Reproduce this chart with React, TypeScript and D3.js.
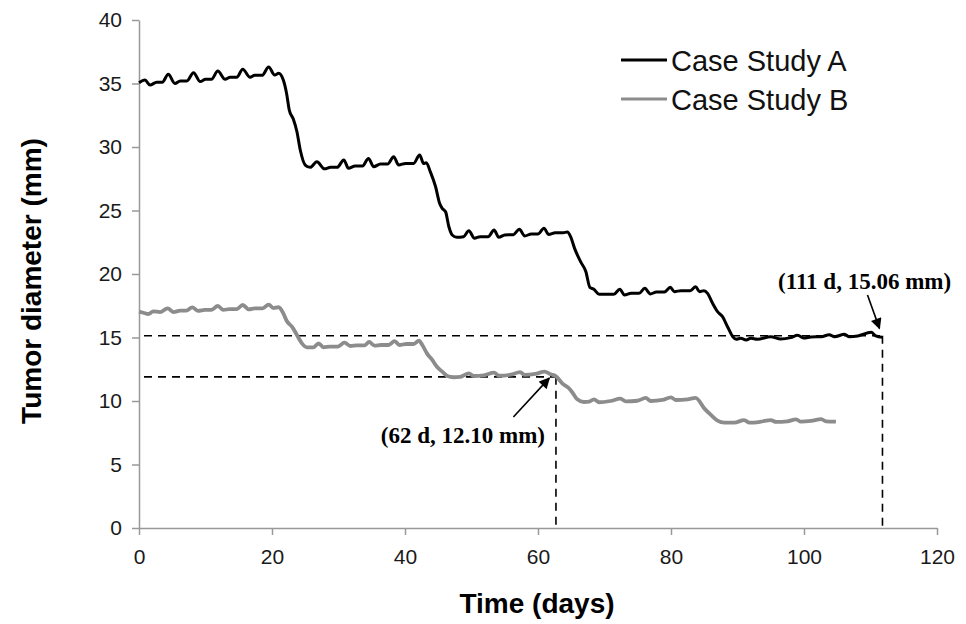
import React, { useRef, useEffect } from 'react';
import { select, scaleLinear, axisBottom, axisLeft, line, curveMonotoneX } from 'd3';

// Case Study A (black)
const daysA = [0, 0.9, 1.66, 2.66, 3.5, 4.4, 5.4, 6.2, 7.2, 8.2, 9.2, 10.0, 10.9, 11.85, 12.95, 13.7, 14.7, 15.6, 16.7, 17.4, 18.5, 19.5, 20.4, 21.0, 21.7, 22.2, 22.6, 23.2, 23.75, 24.25, 25.0, 25.75, 26.75, 27.9, 28.8, 29.8, 30.8, 31.5, 32.5, 33.6, 34.5, 35.3, 36.3, 37.4, 38.3, 39.05, 40.1, 41.3, 42.2, 42.8, 43.2, 43.8, 44.6, 45.2, 45.6, 46.1, 46.6, 47.1, 47.8, 48.8, 49.6, 50.45, 51.3, 52.5, 53.4, 54.1, 55.0, 56.3, 57.2, 58.0, 59.0, 60.0, 60.9, 61.6, 62.6, 63.8, 64.4, 64.9, 65.5, 66.4, 67.2, 67.8, 68.4, 69.2, 70.4, 71.4, 72.3, 73.0, 74.0, 75.2, 76.05, 76.9, 77.8, 79.0, 79.9, 80.5, 81.5, 82.9, 83.7, 84.3, 84.95, 85.5, 86.25, 87.0, 87.75, 88.5, 89.3, 89.8, 90.5, 91.3, 92.0, 93.0, 95.0, 96.5, 98.0, 99.05, 100, 101.05, 102.6, 103.8, 104.6, 106.1, 106.8, 108.1, 110.1, 110.8, 111.8];
const diamA = [35.06, 35.27, 34.88, 35.1, 35.1, 35.72, 35.0, 35.2, 35.2, 35.85, 35.15, 35.33, 35.33, 35.98, 35.33, 35.49, 35.49, 36.12, 35.49, 35.64, 35.64, 36.3, 35.67, 35.8, 35.27, 34.2, 32.9, 32.2, 31.2, 29.76, 28.58, 28.4, 28.84, 28.28, 28.4, 28.4, 28.98, 28.32, 28.5, 28.5, 29.1, 28.45, 28.66, 28.66, 29.24, 28.58, 28.71, 28.71, 29.37, 28.7, 28.76, 28.06, 26.87, 25.57, 25.17, 24.9, 23.72, 23.07, 22.89, 22.94, 23.41, 22.81, 22.94, 22.94, 23.46, 22.89, 23.08, 23.1, 23.52, 22.99, 23.15, 23.15, 23.6, 23.12, 23.25, 23.25, 23.3, 22.94, 22.02, 20.97, 20.18, 18.95, 18.8, 18.4, 18.4, 18.4, 18.8, 18.35, 18.48, 18.48, 18.87, 18.43, 18.58, 18.58, 18.95, 18.61, 18.69, 18.69, 19.0, 18.61, 18.69, 18.48, 17.69, 17.03, 16.64, 15.85, 15.06, 14.86, 14.94, 14.8, 14.94, 14.86, 15.06, 14.88, 14.99, 15.17, 14.96, 15.04, 15.06, 15.22, 15.06, 15.25, 15.06, 15.12, 15.41, 15.12, 15.01];

// Case Study B (gray)
const daysB = [0, 0.65, 1.4, 2.15, 3.16, 4.3, 5.17, 6.2, 7.1, 8.0, 8.9, 9.9, 10.9, 11.85, 12.7, 13.6, 14.7, 15.6, 16.5, 17.4, 18.6, 19.5, 20.2, 21.0, 21.7, 22.2, 23.0, 23.75, 24.5, 25.25, 26.25, 27.0, 27.75, 28.7, 29.9, 30.9, 31.8, 32.8, 33.9, 34.6, 35.4, 36.4, 37.5, 38.45, 39.15, 40.2, 41.3, 42.1, 42.6, 43.3, 44.1, 44.8, 45.6, 46.35, 47.3, 48.3, 49.6, 50.35, 51.85, 53.4, 54.1, 55.9, 57.3, 58.0, 59.6, 61.0, 61.9, 62.65, 63.65, 64.65, 65.2, 65.9, 66.9, 67.7, 68.4, 69.2, 70.9, 72.4, 73.2, 74.95, 76.2, 76.96, 78.7, 80.0, 80.7, 82.5, 83.7, 85.0, 86.0, 87.0, 88.0, 89.5, 91.0, 91.8, 93.5, 95.0, 95.8, 97.5, 98.8, 99.55, 101.05, 102.6, 103.3, 104.8];
const diamB = [17.03, 16.95, 16.85, 17.06, 17.0, 17.3, 17.0, 17.11, 17.11, 17.37, 17.09, 17.17, 17.17, 17.48, 17.17, 17.24, 17.24, 17.56, 17.22, 17.3, 17.3, 17.59, 17.32, 17.38, 16.9, 16.32, 15.85, 15.2, 14.54, 14.23, 14.23, 14.54, 14.23, 14.28, 14.28, 14.59, 14.33, 14.38, 14.38, 14.65, 14.36, 14.41, 14.41, 14.72, 14.41, 14.49, 14.49, 14.75, 14.41, 13.75, 13.23, 12.7, 12.31, 11.97, 11.87, 11.9, 12.18, 11.97, 12.02, 12.23, 11.99, 12.07, 12.28, 12.05, 12.13, 12.31, 12.1, 11.97, 11.39, 11.0, 10.65, 10.13, 9.92, 9.95, 10.13, 9.9, 10.0, 10.18, 9.97, 10.02, 10.24, 10.0, 10.08, 10.29, 10.08, 10.13, 10.24, 9.42, 8.9, 8.45, 8.29, 8.29, 8.5, 8.29, 8.37, 8.5, 8.35, 8.4, 8.56, 8.37, 8.43, 8.58, 8.4, 8.37];

const xTicks = [0, 20, 40, 60, 80, 100, 120];
const yTicks = [0, 5, 10, 15, 20, 25, 30, 35, 40];
const legendLabels = ['Case Study A', 'Case Study B'];

// marked points: guide position [day, mm], label, arrow tail/tip [day, mm]
const markA = { day: 111.8, mm: 15.14, label: '(111 d, 15.06 mm)', tail: [109.55, 18.35], tip: [111.35, 15.72] };
const markB = { day: 62.7, mm: 11.9, label: '(62 d, 12.10 mm)', tail: [56.3, 8.74], tip: [61.7, 11.8] };

export default function App() {
    const ref = useRef<SVGSVGElement | null>(null);

    useEffect(() => {
        if (!ref.current) return;
        const svg = select(ref.current);
        svg.selectAll('*').remove();

        const axisColor = '#999999';
        const grayLine = '#8c8c8c';

        const x = scaleLinear().domain([0, 120]).range([139, 937]);
        const y = scaleLinear().domain([0, 40]).range([528, 20]);

        // arrowhead
        svg.append('defs').append('marker')
            .attr('id', 'arrow')
            .attr('viewBox', '0 0 10 10')
            .attr('refX', 9).attr('refY', 5)
            .attr('markerWidth', 12).attr('markerHeight', 11)
            .attr('markerUnits', 'userSpaceOnUse')
            .attr('orient', 'auto')
            .append('path').attr('d', 'M0,0 L10,5 L0,10 z').attr('fill', '#000');

        // axes
        svg.append('g')
            .attr('transform', `translate(0,${y(0)})`)
            .call(axisBottom(x).tickValues(xTicks).tickSize(7).tickPadding(14).tickSizeOuter(0))
            .call(g => g.select('.domain').attr('stroke', axisColor).attr('stroke-width', 1.5))
            .call(g => g.selectAll('.tick line').attr('stroke', axisColor).attr('stroke-width', 1.5))
            .call(g => g.selectAll('text').attr('fill', '#1a1a1a').style('font-size', '21px').style('font-family', 'Liberation Sans, Arial, sans-serif'));

        svg.append('g')
            .attr('transform', `translate(${x(0)},0)`)
            .call(axisLeft(y).tickValues(yTicks).tickSize(7).tickPadding(10).tickSizeOuter(0))
            .call(g => g.select('.domain').attr('stroke', axisColor).attr('stroke-width', 1.5))
            .call(g => g.selectAll('.tick line').attr('stroke', axisColor).attr('stroke-width', 1.5))
            .call(g => g.selectAll('text').attr('fill', '#1a1a1a').style('font-size', '21px').style('font-family', 'Liberation Sans, Arial, sans-serif'));

        // dashed guides
        const guides = svg.append('g').attr('stroke', '#000').attr('stroke-width', 1.6).attr('stroke-dasharray', '8 6').attr('fill', 'none');
        [markA, markB].forEach(m => {
            guides.append('line').attr('x1', x(0) + 5).attr('x2', x(m.day)).attr('y1', y(m.mm)).attr('y2', y(m.mm));
            guides.append('line').attr('x1', x(m.day)).attr('x2', x(m.day)).attr('y1', y(m.mm)).attr('y2', y(0));
        });

        const pathGen = line<[number, number]>()
            .x(d => x(d[0]))
            .y(d => y(d[1]))
            .curve(curveMonotoneX);

        svg.append('path')
            .datum(daysB.map((d, i) => [d, diamB[i]] as [number, number]))
            .attr('fill', 'none').attr('stroke', grayLine).attr('stroke-width', 3.8)
            .attr('stroke-linejoin', 'round')
            .attr('d', pathGen);

        svg.append('path')
            .datum(daysA.map((d, i) => [d, diamA[i]] as [number, number]))
            .attr('fill', 'none').attr('stroke', '#000').attr('stroke-width', 3)
            .attr('stroke-linejoin', 'round')
            .attr('d', pathGen);

        // arrows + labels
        [markA, markB].forEach(m => {
            svg.append('line')
                .attr('x1', x(m.tail[0])).attr('y1', y(m.tail[1]))
                .attr('x2', x(m.tip[0])).attr('y2', y(m.tip[1]))
                .attr('stroke', '#000').attr('stroke-width', 1.6)
                .attr('marker-end', 'url(#arrow)');
        });

        const annStyle = (t: any) => t
            .style('font-family', 'Liberation Serif, Times New Roman, serif')
            .style('font-weight', 'bold')
            .style('font-size', '23px')
            .attr('fill', '#000');

        svg.append('text')
            .attr('x', 778).attr('y', 289)
            .text(markA.label)
            .call(annStyle);

        svg.append('text')
            .attr('x', 545).attr('y', 443)
            .attr('text-anchor', 'end')
            .text(markB.label)
            .call(annStyle);

        // legend
        const legend = svg.append('g').attr('transform', 'translate(621,60)');
        legendLabels.forEach((lab, i) => {
            const row = legend.append('g').attr('transform', `translate(0,${i * 39})`);
            row.append('line').attr('x1', 0).attr('x2', 46).attr('y1', 0).attr('y2', 0)
                .attr('stroke', i === 0 ? '#000' : grayLine).attr('stroke-width', 3);
            row.append('text').attr('x', 50).attr('y', 10.5)
                .text(lab)
                .style('font-family', 'Liberation Sans, Arial, sans-serif')
                .style('font-size', '29px')
                .attr('fill', '#111');
        });

        // axis titles
        svg.append('text')
            .attr('x', 537).attr('y', 613)
            .attr('text-anchor', 'middle')
            .style('font-family', 'Liberation Sans, Arial, sans-serif')
            .style('font-weight', 'bold')
            .style('font-size', '28px')
            .text('Time (days)');

        svg.append('text')
            .attr('transform', 'rotate(-90)')
            .attr('x', -281).attr('y', 41)
            .attr('text-anchor', 'middle')
            .style('font-family', 'Liberation Sans, Arial, sans-serif')
            .style('font-weight', 'bold')
            .style('font-size', '28px')
            .text('Tumor diameter (mm)');
    }, []);

    return (
        <div style={{ position: 'absolute', left: 0, top: 0, background: '#fff' }}>
            <svg ref={ref} width={966} height={624} style={{ display: 'block' }}></svg>
        </div>
    );
}
